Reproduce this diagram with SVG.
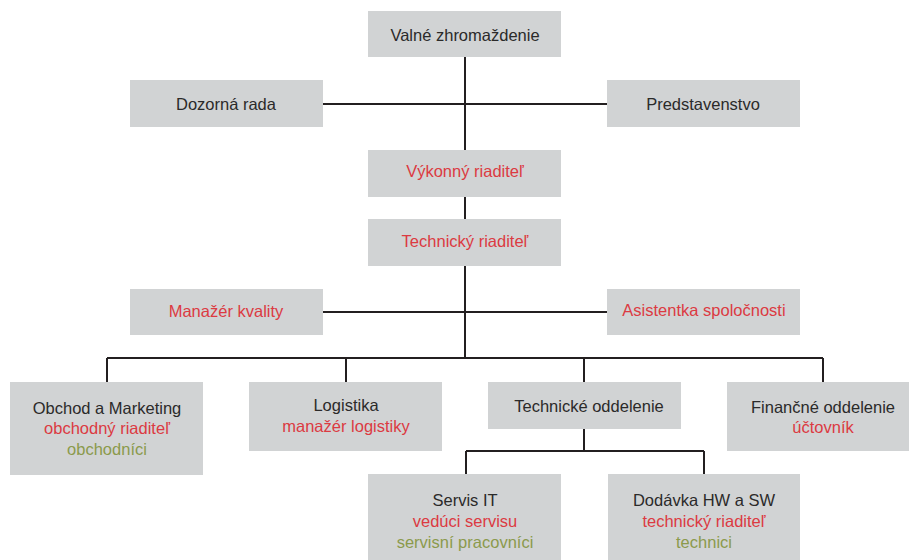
<svg xmlns="http://www.w3.org/2000/svg" width="909" height="560" viewBox="0 0 909 560">
<style>
.box{fill:#d1d3d4}
.t{font-family:"Liberation Sans",Arial,sans-serif;font-size:16.5px;text-anchor:middle;fill:#2b2a2a}
.r{fill:#dc3a42}
.g{fill:#8b9a4c}
.c{fill:none;stroke:#231f20;stroke-width:2}
</style>
<rect width="909" height="560" fill="#ffffff"/>
<g id="connectors" class="c">
<path d="M465 57V358"/>
<path d="M323 104H607"/>
<path d="M323 312H607"/>
<path d="M107 358H823"/>
<path d="M107 358V382M346 358V382M584 358V382M823 358V382"/>
<path d="M584 429V451M466 451H704M466 451V474M704 451V474"/>
</g>
<g id="valne"><rect class="box" x="368" y="11" width="193" height="46"/><text class="t" x="465" y="41">Valné zhromaždenie</text></g>
<g id="dozorna"><rect class="box" x="130" y="80" width="193" height="47"/><text class="t" x="226" y="110">Dozorná rada</text></g>
<g id="predstavenstvo"><rect class="box" x="607" y="80" width="193" height="47"/><text class="t" x="703" y="110">Predstavenstvo</text></g>
<g id="vykonny"><rect class="box" x="368" y="150" width="193" height="47"/><text class="t r" x="465" y="177">Výkonný riaditeľ</text></g>
<g id="technicky"><rect class="box" x="368" y="219" width="193" height="47"/><text class="t r" x="465" y="247">Technický riaditeľ</text></g>
<g id="kvalita"><rect class="box" x="130" y="289" width="193" height="46"/><text class="t r" x="226" y="317">Manažér kvality</text></g>
<g id="asistentka"><rect class="box" x="607" y="289" width="193" height="46"/><text class="t r" x="704" y="316">Asistentka spoločnosti</text></g>
<g id="obchod"><rect class="box" x="10" y="382" width="193" height="93"/><text class="t" x="107" y="414">Obchod a Marketing</text><text class="t r" x="107" y="434">obchodný riaditeľ</text><text class="t g" x="107" y="455">obchodníci</text></g>
<g id="logistika"><rect class="box" x="249" y="382" width="193" height="69"/><text class="t" x="346" y="411">Logistika</text><text class="t r" x="346" y="432">manažér logistiky</text></g>
<g id="technicke"><rect class="box" x="488" y="382" width="193" height="47"/><text class="t" x="589" y="412">Technické oddelenie</text></g>
<g id="financne"><rect class="box" x="727" y="382" width="193" height="69"/><text class="t" x="823" y="413">Finančné oddelenie</text><text class="t r" x="823" y="433">účtovník</text></g>
<g id="servis"><rect class="box" x="368" y="474" width="193" height="86"/><text class="t" x="465" y="506">Servis IT</text><text class="t r" x="465" y="527">vedúci servisu</text><text class="t g" x="465" y="548">servisní pracovníci</text></g>
<g id="dodavka"><rect class="box" x="608" y="474" width="192" height="86"/><text class="t" x="704" y="506">Dodávka HW a SW</text><text class="t r" x="704" y="527">technický riaditeľ</text><text class="t g" x="704" y="548">technici</text></g>
</svg>
